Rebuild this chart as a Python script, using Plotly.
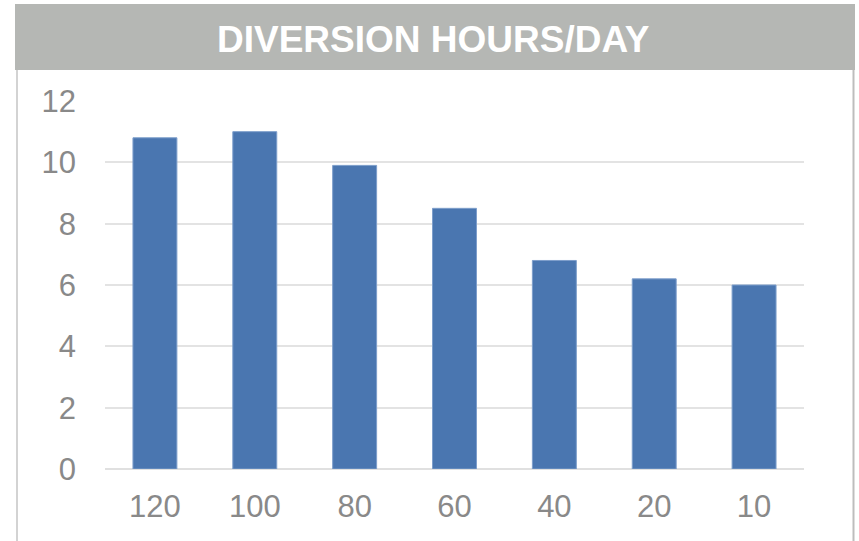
import plotly.graph_objects as go

categories = ["120", "100", "80", "60", "40", "20", "10"]
hours_per_day = [10.8, 11.0, 9.9, 8.5, 6.8, 6.2, 6.0]
y_ticks = [0, 2, 4, 6, 8, 10, 12]
title_text = "DIVERSION HOURS/DAY"

W, H = 859, 541
L, R, T, B = 105, 804, 101, 469  # plot area pixel bounds
pw, ph = R - L, B - T

def px(x):
    return (x - L) / pw

def py(y):
    return (B - y) / ph

fig = go.Figure()
fig.add_trace(go.Bar(
    x=categories, y=hours_per_day,
    marker=dict(color="#4a76b0", line=dict(color="#7d9ecb", width=1)),
    width=0.44,
))

shapes = [
    dict(type="rect", xref="paper", yref="paper", x0=px(15), x1=px(855), y0=py(70), y1=py(4),
         fillcolor="#b5b7b4", line=dict(width=0), layer="below"),
    dict(type="line", xref="paper", yref="paper", x0=px(17), x1=px(17), y0=py(541), y1=py(70),
         line=dict(color="#c4c4c4", width=1.5)),
    dict(type="line", xref="paper", yref="paper", x0=px(853.5), x1=px(853.5), y0=py(541), y1=py(70),
         line=dict(color="#bdbdbd", width=2)),
]

fig.update_layout(
    width=W, height=H,
    margin=dict(l=L, r=W - R, t=T, b=H - B, pad=0),
    paper_bgcolor="white", plot_bgcolor="white",
    showlegend=False,
    shapes=shapes,
    font=dict(family="Liberation Sans, Arial, sans-serif", color="#898989"),
    annotations=[dict(
        text="<b>" + title_text + "</b>", xref="paper", yref="paper",
        x=px(433), y=py(39), xanchor="center", yanchor="middle", showarrow=False,
        font=dict(size=37, color="white", family="Liberation Sans, Arial, sans-serif"),
    )],
    xaxis=dict(
        type="category", showgrid=False, showline=False, ticks="",
        tickfont=dict(size=31, color="#898989"), ticklabelstandoff=16,
    ),
    yaxis=dict(
        range=[0, 12], tickvals=y_ticks, showgrid=True, gridcolor="#e3e3e3", gridwidth=1.5,
        zeroline=True, zerolinecolor="#e0e0e0", zerolinewidth=1.5,
        showline=False, ticks="",
        tickfont=dict(size=31, color="#898989"), ticklabelstandoff=28,
    ),
    bargap=0.56,
)

fig.write_html(
    "out.html",
    config={"displayModeBar": False},
    post_script="document.body.style.margin='0';document.body.style.overflow='hidden';",
)
